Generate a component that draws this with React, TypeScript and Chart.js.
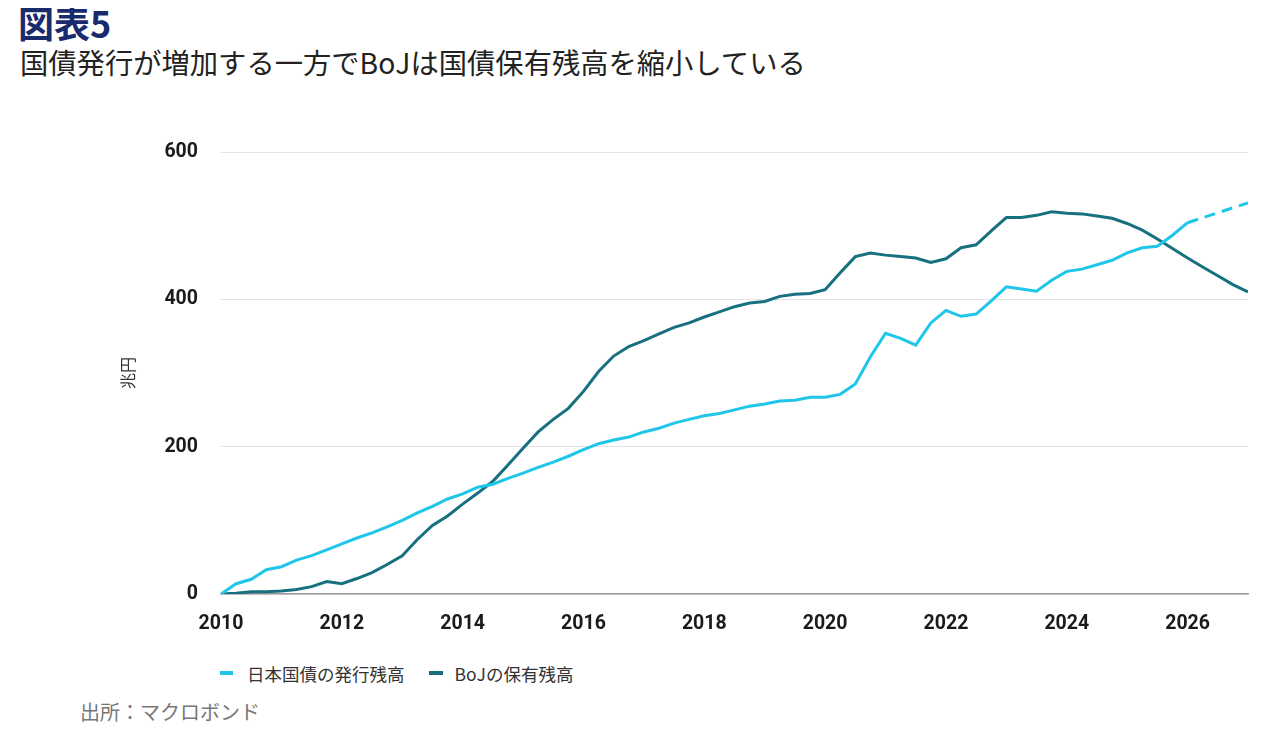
import React, { useEffect, useRef } from "react";
import { Chart, registerables } from "chart.js";

Chart.register(...registerables);

// Quarterly periods, 2010 Q1 through 2027 Q1
const START_YEAR = 2010;
const periods: number[] = Array.from({ length: 69 }, (_, i) => START_YEAR + i * 0.25);

// 日本国債の発行残高 (兆円), 2010.00 .. 2026.00 quarterly
const issuance: number[] = [
  0, 14, 20, 33, 37, 46, 52, 60,
  68, 76, 83, 91, 100, 110, 119, 129,
  136, 145, 149, 157, 164, 172, 179, 187,
  196, 204, 209, 213, 220, 225, 232, 237,
  242, 245, 250, 255, 258, 262, 263, 267,
  267, 271, 285, 322, 354, 347, 338, 368,
  385, 377, 380, 398, 417, 414, 411, 426,
  438, 441, 447, 453, 463, 470, 472, 487,
  504,
];
// projection (dashed) for issuance
const projYears: number[] = [2026, 2027];
const projValues: number[] = [504, 531];

// BoJの保有残高 (兆円), 2010.00 .. 2027.00 quarterly
const bojHoldings: number[] = [
  0, 1, 3, 3,
  4, 6, 10, 17,
  14, 21, 29, 40,
  52, 74, 93, 106,
  122, 137, 153, 175,
  198, 220, 237, 252,
  275, 302, 323, 336,
  344, 353, 362, 368,
  376, 383, 390, 395,
  397, 404, 407, 408,
  413, 436, 458, 463,
  460, 458, 456, 450,
  455, 470, 474, 493,
  511, 511, 514, 519,
  517, 516, 513, 510,
  503, 494, 482, 469,
  456, 444, 432, 420,
  410,
];

const seriesNames = ["日本国債の発行残高", "BoJの保有残高"];
const yTicks = [0, 200, 400, 600];
const xTickYears = [2010, 2012, 2014, 2016, 2018, 2020, 2022, 2024, 2026];

const LIGHT = "#1fc6ea";
const DARK = "#17707f";

export default function App() {
  const ref = useRef<HTMLCanvasElement | null>(null);

  useEffect(() => {
    if (!ref.current) return;
    const issuancePts = issuance.map((v, i) => ({ x: periods[i], y: v }));
    const projPts = projYears.map((x, i) => ({ x, y: projValues[i] }));
    const bojPts = bojHoldings.map((v, i) => ({ x: periods[i], y: v }));

    const chart = new Chart(ref.current, {
      type: "line",
      data: {
        datasets: [
          {
            label: seriesNames[0],
            data: issuancePts,
            borderColor: LIGHT,
            backgroundColor: LIGHT,
            borderWidth: 3,
            pointRadius: 0,
            tension: 0,
          },
          {
            label: seriesNames[0] + "（予測）",
            data: projPts,
            borderColor: LIGHT,
            backgroundColor: LIGHT,
            borderWidth: 3,
            borderDash: [11, 7],
            pointRadius: 0,
            tension: 0,
          },
          {
            label: seriesNames[1],
            data: bojPts,
            borderColor: DARK,
            backgroundColor: DARK,
            borderWidth: 3,
            pointRadius: 0,
            tension: 0,
          },
        ],
      },
      options: {
        animation: false,
        responsive: false,
        maintainAspectRatio: false,
        layout: { padding: { left: 110, right: 24, top: 52, bottom: 0 } },
        plugins: {
          legend: { display: false },
          tooltip: { enabled: false },
        },
        scales: {
          x: {
            type: "linear",
            min: 2010,
            max: 2027,
            afterBuildTicks: (scale: any) => {
              scale.ticks = xTickYears.map((v) => ({ value: v }));
            },
            afterFit: (scale: any) => {
              scale.height = 50;
            },
            ticks: {
              padding: 18,
              color: "#1a1a1a",
              font: { family: "Roboto, 'Liberation Sans', sans-serif", size: 19.5, weight: "bold" },
              callback: (v: any) => String(v),
              maxRotation: 0,
            },
            grid: { display: false, drawTicks: false },
            border: { display: true, color: "#9a9a9a", width: 1.5 },
          },
          y: {
            min: 0,
            max: 600,
            afterBuildTicks: (scale: any) => {
              scale.ticks = yTicks.map((v) => ({ value: v }));
            },
            afterFit: (scale: any) => {
              scale.width = 103;
            },
            ticks: {
              padding: 23,
              color: "#1a1a1a",
              font: { family: "Roboto, 'Liberation Sans', sans-serif", size: 19.5, weight: "bold" },
              callback: (v: any) => String(v),
            },
            grid: { color: "#e3e3e3", lineWidth: 1, drawTicks: false },
            border: { display: false },
            title: {
              display: true,
              text: "兆円",
              color: "#333",
              padding: { top: 0, bottom: 0 },
              font: { family: "'Noto Sans CJK JP', sans-serif", size: 16 },
            },
          },
        },
      },
    });
    return () => chart.destroy();
  }, []);

  const cjk = "'Noto Sans CJK JP', 'Noto Sans', sans-serif";

  return (
    <div style={{ position: "relative", width: 1264, height: 731, background: "#fff", fontFamily: cjk }}>
      <div
        style={{
          position: "absolute",
          left: 10,
          top: -4,
          fontSize: 36,
          lineHeight: 1,
          fontWeight: 700,
          color: "#1a2b6d",
          whiteSpace: "nowrap",
        }}
      >
        図表5
      </div>
      <div
        style={{
          position: "absolute",
          left: 12,
          top: 40,
          fontSize: 28.3,
          lineHeight: 1,
          color: "#222",
          whiteSpace: "nowrap",
        }}
      >
        国債発行が増加する一方でBoJは国債保有残高を縮小している
      </div>
      <canvas
        ref={ref}
        width={1264}
        height={544}
        style={{ position: "absolute", left: 0, top: 92, width: 1264, height: 544 }}
      />
      <div
        style={{
          position: "absolute",
          left: 212,
          top: 655,
          height: 20,
          display: "flex",
          alignItems: "center",
          fontSize: 17.5,
          color: "#333",
          whiteSpace: "nowrap",
        }}
      >
        <span style={{ display: "inline-block", width: 13, height: 4, background: LIGHT, marginRight: 14 }} />
        <span style={{ marginRight: 24 }}>{seriesNames[0]}</span>
        <span style={{ display: "inline-block", width: 14, height: 4, background: DARK, marginRight: 12 }} />
        <span>{seriesNames[1]}</span>
      </div>
      <div
        style={{
          position: "absolute",
          left: 72,
          top: 694,
          fontSize: 20,
          lineHeight: 1,
          color: "#777",
          whiteSpace: "nowrap",
        }}
      >
        出所：マクロボンド
      </div>
    </div>
  );
}
